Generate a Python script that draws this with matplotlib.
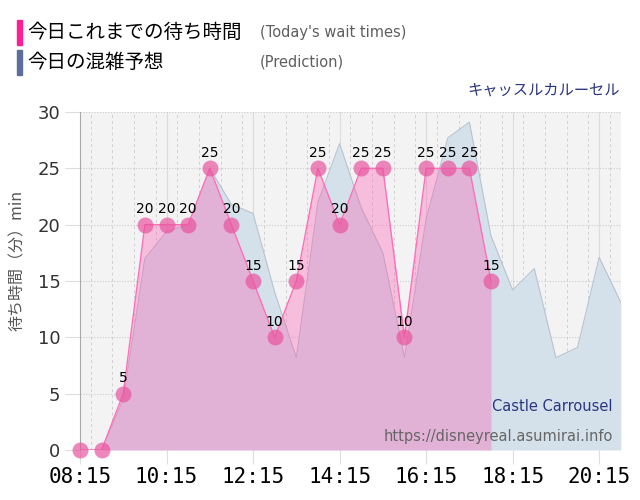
import matplotlib
matplotlib.use("Agg")
import matplotlib.pyplot as plt
from matplotlib.ticker import MultipleLocator
import numpy as np

plt.rcParams['font.family'] = ['DejaVu Sans', 'Noto Sans CJK JP']

# actual wait times, every 30 min from 08:15
actual_times = ["08:15", "08:45", "09:15", "09:45", "10:15", "10:45", "11:15",
                "11:45", "12:15", "12:45", "13:15", "13:45", "14:15", "14:45",
                "15:15", "15:45", "16:15", "16:45", "17:15", "17:45"]
actual_wait = [0, 0, 5, 20, 20, 20, 25, 20, 15, 10, 15, 25, 20, 25, 25, 10,
               25, 25, 25, 15]

# predicted wait times
pred_times = ["08:15", "08:45", "09:15", "09:45", "10:15", "10:45", "11:15",
              "11:45", "12:15", "12:45", "13:15", "13:45", "14:15", "14:45",
              "15:15", "15:45", "16:15", "16:45", "17:15", "17:45", "18:15",
              "18:45", "19:15", "19:45", "20:15", "20:45"]
pred_wait = [0, 0, 4.5, 17, 19.4, 20, 25, 21.8, 21, 14, 8.2, 22, 27.2, 21.5,
             17.5, 8.2, 20.5, 27.7, 29.1, 19, 14.2, 16.1, 8.2, 9.1, 17.1, 13.1]

tick_labels = ["08:15", "10:15", "12:15", "14:15", "16:15", "18:15", "20:15"]


def to_hours(t):
    h, m = t.split(":")
    return int(h) + int(m) / 60


xa = np.array([to_hours(t) for t in actual_times])
ya = np.array(actual_wait, dtype=float)
xp = np.array([to_hours(t) for t in pred_times])
yp = np.array(pred_wait, dtype=float)

fig = plt.figure(figsize=(6.4, 5.0), dpi=100)
ax = fig.add_axes([0.125, 0.1, 0.845, 0.676])
ax.set_facecolor("#f3f3f3")

# prediction area
ax.fill_between(xp, 0, yp, color="#d5e1ea", linewidth=0, zorder=2)
ax.plot(xp, yp, color="#b7c4cf", linewidth=0.8, zorder=3)

# today's wait area
ax.fill_between(xa, 0, ya, color="#ff50ae", alpha=0.32, linewidth=0, zorder=4)
ax.plot(xa, ya, color="#ff6fb8", linewidth=1.0, zorder=5)
ax.plot(xa, ya, "o", color="#e8559f", alpha=0.7, markersize=11.5,
        markeredgewidth=0, zorder=6, clip_on=False)

for x, y in zip(xa, ya):
    if y > 0:
        ax.annotate(f"{int(y)}", (x, y), xytext=(0, 6), textcoords="offset points",
                    ha="center", va="bottom", fontsize=10, color="black", zorder=7)

ax.set_xlim(to_hours("08:15"), to_hours("20:45"))
ax.set_ylim(0, 30)
ax.set_xticks([to_hours(t) for t in tick_labels])
ax.set_xticklabels(tick_labels, family="DejaVu Sans Mono", fontsize=15)
ax.xaxis.set_minor_locator(MultipleLocator(0.5))
ax.yaxis.set_major_locator(MultipleLocator(5))
ax.tick_params(axis="y", labelsize=13, labelcolor="#333333", length=11,
               color="#dddddd", pad=3)
ax.tick_params(axis="x", length=10, color="#dddddd", pad=2)
ax.tick_params(axis="x", which="minor", length=0)

ax.grid(axis="x", which="major", color="#dcdcdc", linewidth=0.8, zorder=1)
ax.grid(axis="x", which="minor", color="#d0d0d0", linestyle=(0, (3, 3)),
        linewidth=0.7, zorder=1)
ax.grid(axis="y", color="#cccccc", linestyle=(0, (1, 1.5)), linewidth=0.8, zorder=1)
ax.set_axisbelow(True)

for s in ["top", "right", "bottom"]:
    ax.spines[s].set_visible(False)
ax.spines["left"].set_color("#aaaaaa")

ax.set_ylabel("待ち時間（分）min", family=["Noto Sans CJK JP", "DejaVu Sans"],
              fontsize=11.5, color="#555555", labelpad=6)
ax.yaxis.set_label_coords(-0.1, 0.56)

ax.text(0.985, 0.13, "Castle Carrousel", transform=ax.transAxes, ha="right",
        va="center", fontsize=10.5, color="#2b3580", zorder=8)
ax.text(0.985, 0.04, "https://disneyreal.asumirai.info", transform=ax.transAxes,
        ha="right", va="center", fontsize=10.5, color="#666666", zorder=8)

# legend header
cjk = ["Noto Sans CJK JP", "DejaVu Sans"]
fig.patches.append(plt.Rectangle((17 / 640, 1 - 45 / 500), 5 / 640, 25 / 500,
                                 transform=fig.transFigure, color="#ff1e96"))
fig.patches.append(plt.Rectangle((17 / 640, 1 - 75 / 500), 5 / 640, 25 / 500,
                                 transform=fig.transFigure, color="#5b6e9c"))
fig.text(27 / 640, 1 - 32 / 500, "今日これまでの待ち時間", family=cjk, fontsize=14,
         va="center", ha="left", color="black")
fig.text(260 / 640, 1 - 32 / 500, "(Today's wait times)", fontsize=10.5,
         va="center", ha="left", color="#5e5e5e")
fig.text(27 / 640, 1 - 62 / 500, "今日の混雑予想", family=cjk, fontsize=14,
         va="center", ha="left", color="black")
fig.text(260 / 640, 1 - 62 / 500, "(Prediction)", fontsize=10.5,
         va="center", ha="left", color="#5e5e5e")
fig.text(620 / 640, 1 - 90 / 500, "キャッスルカルーセル", family=cjk, fontsize=11,
         va="center", ha="right", color="#2b3580")

fig.savefig("out.png", dpi=100)
